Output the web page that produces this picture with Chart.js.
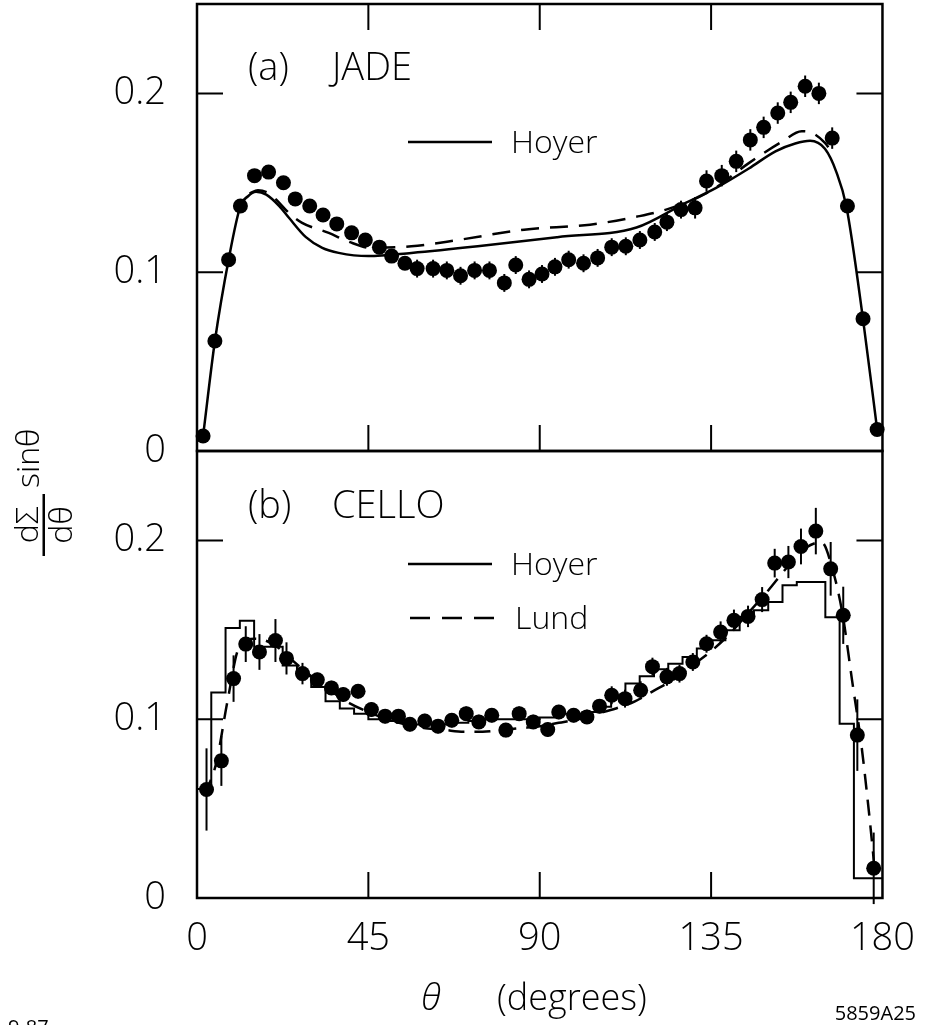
<!DOCTYPE html>
<html>
<head>
<meta charset="utf-8">
<script src="https://cdn.jsdelivr.net/npm/chart.js@4.4.1/dist/chart.umd.min.js"></script>
<style>
  html, body { margin: 0; padding: 0; background: #fff; }
</style>
</head>
<body>
<canvas id="myChart" width="933" height="1025"></canvas>
<script>
const ctx = document.getElementById('myChart');
const FONT = '"Open Sans", "DejaVu Sans", sans-serif';
Chart.defaults.font.family = FONT;
Chart.defaults.color = '#000';

// tick values
const xTicks = [0, 45, 90, 135, 180];
const xTickMarks = [45, 90, 135];
const yTicks = [0, 0.1, 0.2];
const yTickMarks = [0.1, 0.2];

// (a) JADE data points
const jadeTheta = [1.6, 4.7, 8.3, 11.4, 15.1, 18.8, 22.7, 25.8, 29.6, 33.1,
  36.7, 40.6, 44.2, 47.9, 51.1, 54.6, 57.8, 62.0, 65.6, 69.2,
  72.9, 76.8, 80.7, 83.7, 87.2, 90.6, 94.0, 97.6, 101.5, 105.2,
  108.9, 112.6, 116.3, 120.2, 123.4, 127.1, 130.8, 133.8, 137.8, 141.6,
  145.3, 148.8, 152.5, 155.9, 159.7, 163.3, 166.8, 170.8, 174.9, 178.6];
const jadeValue = [0.0084, 0.0615, 0.107, 0.137, 0.154, 0.156, 0.150, 0.141, 0.137, 0.132,
  0.127, 0.122, 0.118, 0.114, 0.109, 0.105, 0.102, 0.102, 0.101, 0.098,
  0.101, 0.101, 0.094, 0.104, 0.096, 0.099, 0.103, 0.107, 0.105, 0.108,
  0.114, 0.1145, 0.118, 0.1225, 0.128, 0.135, 0.136, 0.151, 0.154, 0.162,
  0.174, 0.181, 0.189, 0.195, 0.204, 0.200, 0.175, 0.137, 0.074, 0.012];
const jadeErr = [0.003, 0.003, 0.003, 0.003, 0.003, 0.003, 0.003, 0.003, 0.003, 0.003,
  0.003, 0.003, 0.003, 0.003, 0.003, 0.003, 0.005, 0.005, 0.005, 0.005,
  0.005, 0.005, 0.005, 0.005, 0.005, 0.005, 0.005, 0.005, 0.005, 0.005,
  0.005, 0.005, 0.005, 0.005, 0.005, 0.005, 0.006, 0.006, 0.006, 0.006,
  0.006, 0.006, 0.006, 0.006, 0.006, 0.006, 0.006, 0.003, 0.003, 0.003];

// (a) Hoyer curve (solid) and second curve (dashed)
const jadeHoyerTheta = [1.6, 4.7, 8.3, 11.4, 13.4, 15.5, 18.2, 21.6, 24.2, 28.6, 32.9, 37.2, 45, 56.3,
  73.7, 94.6, 115.4, 127.6, 136.2, 144.9, 151.9, 157.1, 161, 164.9, 167.9, 170.5, 174.9, 178.6];
const jadeHoyerValue = [0.0084, 0.0615, 0.107, 0.137, 0.1425, 0.145, 0.1434, 0.137, 0.1303, 0.1196, 0.1136, 0.1108, 0.109, 0.1108,
  0.1145, 0.1196, 0.125, 0.138, 0.147, 0.158, 0.1676, 0.172, 0.1735, 0.169, 0.156, 0.137, 0.0736, 0.0121];
const jadeDashTheta = [13.8, 16, 19, 20.8, 24.2, 27.6, 34.6, 39.9, 45.8, 56.3, 68.5,
  85.9, 103.2, 115.4, 123.2, 134.5, 144.9, 153.6, 158.8, 161.4, 164.9, 167];
const jadeDashValue = [0.144, 0.1458, 0.144, 0.1406, 0.133, 0.1276, 0.122, 0.117, 0.1136, 0.1145, 0.118,
  0.1238, 0.1266, 0.131, 0.135, 0.145, 0.161, 0.173, 0.1788, 0.178, 0.1723, 0.166];

// (b) CELLO data points
const celloTheta = [2.5, 6.4, 9.6, 12.8, 16.4, 20.6, 23.5, 27.7, 31.6, 35.3,
  38.4, 42.3, 45.8, 49.4, 52.9, 55.9, 59.8, 63.3, 66.9, 70.7,
  74.0, 77.4, 81.1, 84.6, 88.3, 92.1, 95.0, 98.9, 102.4, 105.7,
  108.9, 112.4, 116.5, 119.6, 123.4, 126.7, 130.2, 133.8, 137.5, 141.0,
  144.7, 148.4, 151.7, 155.3, 158.6, 162.5, 166.4, 169.7, 173.4, 177.7];
const celloValue = [0.0607, 0.0767, 0.1227, 0.142, 0.1376, 0.144, 0.134, 0.1255, 0.122, 0.1175,
  0.1138, 0.1156, 0.1054, 0.1017, 0.1017, 0.0972, 0.099, 0.0961, 0.0994, 0.1031,
  0.0985, 0.1022, 0.0939, 0.1031, 0.0985, 0.0942, 0.104, 0.1022, 0.1013, 0.1073,
  0.1134, 0.1115, 0.1162, 0.1294, 0.1237, 0.1255, 0.132, 0.1422, 0.1487, 0.1553,
  0.1575, 0.1669, 0.1873, 0.1879, 0.1966, 0.2052, 0.1841, 0.1581, 0.0911, 0.0166];
const celloErr = [0.023, 0.014, 0.013, 0.01, 0.01, 0.012, 0.009, 0.006, 0.004, 0.004,
  0.004, 0.004, 0.004, 0.004, 0.004, 0.004, 0.004, 0.004, 0.004, 0.004,
  0.004, 0.004, 0.004, 0.004, 0.004, 0.004, 0.004, 0.004, 0.004, 0.004,
  0.005, 0.005, 0.005, 0.005, 0.005, 0.005, 0.005, 0.005, 0.006, 0.006,
  0.006, 0.007, 0.008, 0.009, 0.01, 0.013, 0.015, 0.016, 0.02, 0.02];

// (b) Hoyer histogram (bin edges + bin contents) and Lund curve
const celloHoyerEdges = [0, 3.75, 7.5, 11.25, 15, 18.75, 22.5, 26.25, 30, 33.75, 37.5, 41.25,
  45, 48.75, 52.5, 56.25, 60, 63.75, 67.5, 71.25, 75, 78.75, 82.5, 86.25,
  90, 93.75, 97.5, 101.25, 105, 108.75, 112.5, 116.25, 120, 123.75, 127.5, 131.25,
  135, 138.75, 142.5, 146.25, 150, 153.75, 157.5, 161.25, 165, 168.75, 172.5, 176.25, 180];
const celloHoyerBins = [0.061, 0.061, 0.115, 0.151, 0.155, 0.1405, 0.1405, 0.13, 0.124, 0.118, 0.11, 0.106,
  0.103, 0.1, 0.099, 0.098, 0.097, 0.097, 0.097, 0.098, 0.099, 0.1, 0.1, 0.1,
  0.1, 0.101, 0.103, 0.103, 0.104, 0.107, 0.112, 0.12, 0.124, 0.128, 0.131, 0.1348,
  0.1395, 0.1441, 0.1497, 0.1571, 0.1609, 0.1655, 0.1749, 0.1767, 0.1767, 0.157, 0.0975, 0.011];
const celloLundTheta = [2, 5, 8, 11, 15, 20, 25, 30, 35, 40, 45, 50, 55, 60, 65, 70, 75, 80, 85, 90,
  95, 100, 105, 110, 115, 120, 125, 130, 135, 140, 145, 150, 155, 160, 164, 167, 169.5, 172, 174.5, 176.5, 178];
const celloLundValue = [0.058, 0.075, 0.11, 0.14, 0.145, 0.142, 0.133, 0.124, 0.116, 0.109, 0.104, 0.1, 0.097, 0.095, 0.094, 0.093, 0.093, 0.094, 0.095, 0.096,
  0.098, 0.1, 0.103, 0.106, 0.11, 0.116, 0.122, 0.13, 0.138, 0.148, 0.16, 0.172, 0.185, 0.196, 0.199, 0.183, 0.159, 0.122, 0.085, 0.047, 0.015];

function pts(xs, ys) {
  return xs.map((x, i) => ({ x: x, y: ys[i] }));
}

const errorBars = [
  { axis: 'yTop', theta: jadeTheta, value: jadeValue, err: jadeErr },
  { axis: 'yBot', theta: celloTheta, value: celloValue, err: celloErr }
];

// borders, inward ticks, error bars and all the lettering
const decor = {
  id: 'decor',
  afterDatasetsDraw(chart) {
    const c = chart.ctx;
    const xs = chart.scales.x;
    c.save();
    c.strokeStyle = '#000';
    c.lineWidth = 2;
    errorBars.forEach(set => {
      const ys = chart.scales[set.axis];
      set.theta.forEach((t, i) => {
        const px = xs.getPixelForValue(t);
        c.beginPath();
        c.moveTo(px, ys.getPixelForValue(set.value[i] - set.err[i]));
        c.lineTo(px, ys.getPixelForValue(set.value[i] + set.err[i]));
        c.stroke();
      });
    });
    c.restore();
  },
  afterDraw(chart) {
    const c = chart.ctx;
    const xs = chart.scales.x;
    const top = chart.scales.yTop;
    const bot = chart.scales.yBot;
    const L = chart.chartArea.left, R = chart.chartArea.right;
    const tick = 26;
    c.save();
    c.strokeStyle = '#000';
    c.fillStyle = '#000';
    c.lineWidth = 2.5;
    c.strokeRect(L, top.top, R - L, top.bottom - top.top);
    c.strokeRect(L, bot.top, R - L, bot.bottom - bot.top);

    c.lineWidth = 2;
    c.beginPath();
    xTickMarks.forEach(v => {
      const px = xs.getPixelForValue(v);
      c.moveTo(px, top.top); c.lineTo(px, top.top + tick);
      c.moveTo(px, top.bottom); c.lineTo(px, top.bottom - tick);
      c.moveTo(px, bot.bottom); c.lineTo(px, bot.bottom - tick);
    });
    [top, bot].forEach(s => {
      yTickMarks.forEach(v => {
        const py = s.getPixelForValue(v);
        c.moveTo(L, py); c.lineTo(L + tick, py);
        c.moveTo(R, py); c.lineTo(R - tick, py);
      });
    });
    c.stroke();

    // panel labels
    c.textAlign = 'left';
    c.textBaseline = 'alphabetic';
    c.font = '300 38px ' + FONT;
    c.fillText('(a)', 248, top.top + 76);
    c.fillText('JADE', 332, top.top + 76);
    c.fillText('(b)', 248, bot.top + 67);
    c.fillText('CELLO', 332, bot.top + 67);

    // legends
    c.font = '300 32px ' + FONT;
    c.lineWidth = 2.5;
    c.beginPath();
    c.moveTo(408, top.top + 138); c.lineTo(492, top.top + 138);
    c.moveTo(408, bot.top + 113); c.lineTo(492, bot.top + 113);
    c.stroke();
    c.setLineDash([20, 12]);
    c.beginPath();
    c.moveTo(410, bot.top + 167); c.lineTo(496, bot.top + 167);
    c.stroke();
    c.setLineDash([]);
    c.fillText('Hoyer', 511, top.top + 149);
    c.fillText('Hoyer', 511, bot.top + 124);
    c.fillText('Lund', 515, bot.top + 178);

    // x axis title
    c.font = 'italic 300 36px ' + FONT;
    c.textAlign = 'center';
    c.fillText('\u03B8', 431, 1010);
    c.font = '300 36px ' + FONT;
    c.textAlign = 'left';
    c.fillText('(degrees)', 497, 1010);

    // corner marks
    c.font = '20px ' + FONT;
    c.fillText('9-87', 8, 1034);
    c.textAlign = 'right';
    c.fillText('5859A25', 916, 1020);

    // y axis title, rotated: d\u03A3 over d\u03B8, then sin\u03B8
    c.translate(44, 556);
    c.rotate(-Math.PI / 2);
    c.font = '300 32px ' + FONT;
    c.textAlign = 'center';
    c.fillText('d\u03A3', 31, -6);
    c.fillRect(0, -1.5, 62, 2.5);
    c.textBaseline = 'top';
    c.fillText('d\u03B8', 31, 3);
    c.textAlign = 'left';
    c.textBaseline = 'alphabetic';
    c.fillText('sin\u03B8', 68, -5);
    c.restore();
  }
};

const yAxis = {
  type: 'linear',
  position: 'left',
  stack: 'panels',
  stackWeight: 1,
  min: 0,
  max: 0.25,
  grid: { display: false, drawTicks: false },
  border: { display: false },
  ticks: { padding: 31, font: { size: 38, weight: 300 }, color: '#000' },
  afterBuildTicks: axis => { axis.ticks = yTicks.map(v => ({ value: v })); },
  afterFit: axis => { axis.width = 197; axis.paddingTop = 0; axis.paddingBottom = 0; }
};

new Chart(ctx, {
  type: 'scatter',
  data: {
    datasets: [
      {
        label: 'JADE',
        data: pts(jadeTheta, jadeValue),
        yAxisID: 'yTop',
        pointRadius: 7.5,
        pointBackgroundColor: '#000',
        pointBorderWidth: 0,
        clip: false,
        order: 0
      },
      {
        label: 'Hoyer (a)',
        data: pts(jadeHoyerTheta, jadeHoyerValue),
        yAxisID: 'yTop',
        showLine: true,
        borderColor: '#000',
        borderWidth: 2.5,
        pointRadius: 0,
        cubicInterpolationMode: 'monotone',
        order: 1
      },
      {
        label: 'dashed (a)',
        data: pts(jadeDashTheta, jadeDashValue),
        yAxisID: 'yTop',
        showLine: true,
        borderColor: '#000',
        borderWidth: 2.5,
        borderDash: [18, 11],
        pointRadius: 0,
        cubicInterpolationMode: 'monotone',
        order: 1
      },
      {
        label: 'CELLO',
        data: pts(celloTheta, celloValue),
        yAxisID: 'yBot',
        pointRadius: 7.5,
        pointBackgroundColor: '#000',
        pointBorderWidth: 0,
        clip: false,
        order: 0
      },
      {
        label: 'Hoyer (b)',
        data: celloHoyerEdges.map((e, i) => ({ x: e, y: celloHoyerBins[Math.min(i, celloHoyerBins.length - 1)] })),
        yAxisID: 'yBot',
        showLine: true,
        stepped: 'after',
        borderColor: '#000',
        borderWidth: 2,
        pointRadius: 0,
        order: 1
      },
      {
        label: 'Lund',
        data: pts(celloLundTheta, celloLundValue),
        yAxisID: 'yBot',
        showLine: true,
        borderColor: '#000',
        borderWidth: 2.5,
        borderDash: [16, 10],
        pointRadius: 0,
        cubicInterpolationMode: 'monotone',
        order: 1
      }
    ]
  },
  options: {
    responsive: false,
    animation: false,
    devicePixelRatio: 1,
    layout: { autoPadding: false, padding: { top: 4, right: 45, bottom: 0, left: 0 } },
    plugins: {
      legend: { display: false },
      tooltip: { enabled: false }
    },
    scales: {
      x: {
        type: 'linear',
        min: 0,
        max: 180,
        grid: { display: false, drawTicks: false },
        border: { display: false },
        ticks: { padding: 18, maxRotation: 0, font: { size: 38, weight: 300 }, color: '#000' },
        afterBuildTicks: axis => { axis.ticks = xTicks.map(v => ({ value: v })); },
        afterFit: axis => { axis.height = 127; }
      },
      yBot: Object.assign({}, yAxis),
      yTop: Object.assign({}, yAxis)
    }
  },
  plugins: [decor]
});
</script>
</body>
</html>
